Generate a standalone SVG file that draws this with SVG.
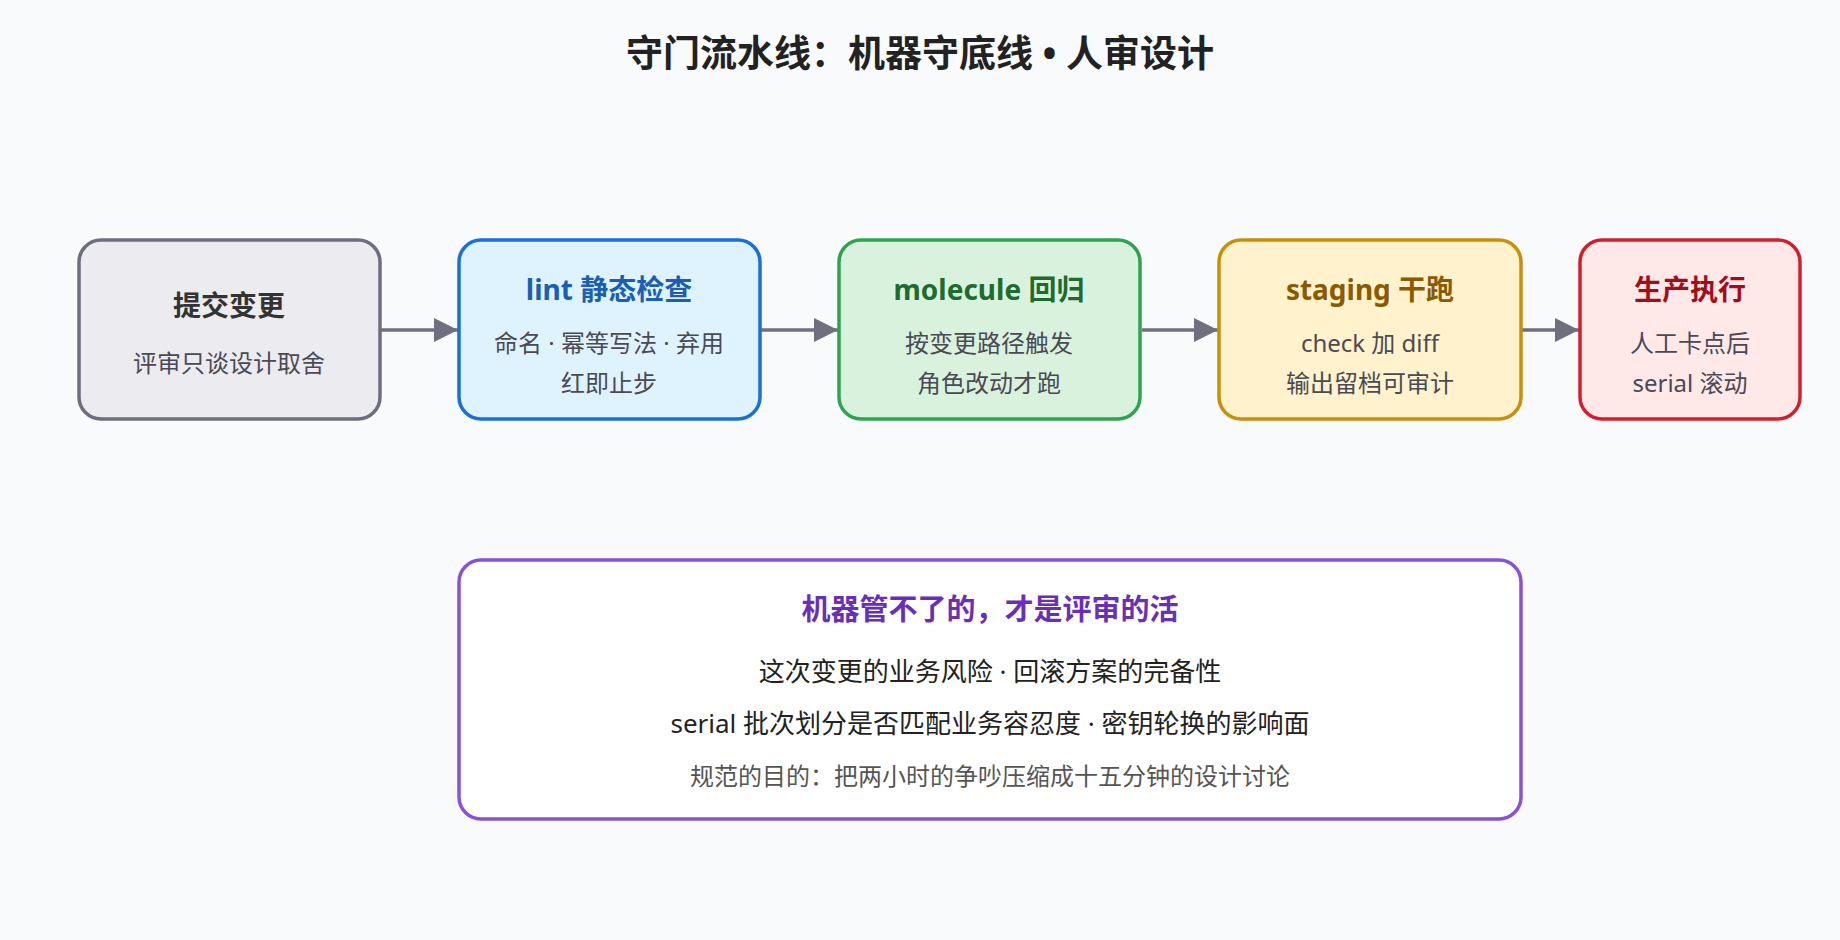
<svg xmlns="http://www.w3.org/2000/svg" width="1840" height="940" viewBox="0 0 1840 940">
<style>
text{font-family:"Noto Sans","Noto Sans CJK SC",sans-serif;text-anchor:middle}
.t{font-size:28px;font-weight:bold}
.s{font-size:24px;fill:#4a4a55}
.box{stroke-width:3.5}
.c{stroke:#6f6f80;stroke-width:3.5;fill:none;marker-end:url(#a2)}
</style>
<defs><marker id="a2" viewBox="0 0 10 10" refX="10" refY="5" markerWidth="30" markerHeight="24" markerUnits="userSpaceOnUse" orient="auto"><path d="M0,0L10,5L0,10z" fill="#6f6f80"/></marker></defs>
<rect width="1840" height="940" fill="#f8fafc"/>
<text x="920" y="67" style="font-size:37px;font-weight:bold" fill="#222">守门流水线：机器守底线 • 人审设计</text>
<g id="connectors">
<line x1="381" y1="330" x2="458" y2="330" class="c"/>
<line x1="761" y1="330" x2="838" y2="330" class="c"/>
<line x1="1142" y1="330" x2="1218" y2="330" class="c"/>
<line x1="1522" y1="330" x2="1579" y2="330" class="c"/>
</g>
<g id="n1"><rect x="79" y="240" width="301" height="179" rx="22" class="box" fill="#ecebf0" stroke="#6e6e80"/>
<text x="229" y="316" class="t" fill="#333">提交变更</text><text x="229" y="372" class="s">评审只谈设计取舍</text></g>
<g id="n2"><rect x="459" y="240" width="301" height="179" rx="22" class="box" fill="#dff3fe" stroke="#1a6fd8"/>
<text x="609" y="300" class="t" fill="#1a5fb4">lint 静态检查</text><text x="609" y="352" class="s">命名 · 幂等写法 · 弃用</text><text x="609" y="392" class="s">红即止步</text></g>
<g id="n3"><rect x="839" y="240" width="301" height="179" rx="22" class="box" fill="#d9f2de" stroke="#2ea44f"/>
<text x="989" y="300" class="t" fill="#1e6b2e">molecule 回归</text><text x="989" y="352" class="s">按变更路径触发</text><text x="989" y="392" class="s">角色改动才跑</text></g>
<g id="n4"><rect x="1219" y="240" width="302" height="179" rx="22" class="box" fill="#fff2cc" stroke="#c8900a"/>
<text x="1370" y="300" class="t" fill="#8a5a00">staging 干跑</text><text x="1370" y="352" class="s">check 加 diff</text><text x="1370" y="392" class="s">输出留档可审计</text></g>
<g id="n5"><rect x="1580" y="240" width="220" height="179" rx="22" class="box" fill="#ffe8e8" stroke="#d0202e"/>
<text x="1690" y="300" class="t" fill="#a00e1e">生产执行</text><text x="1690" y="352" class="s">人工卡点后</text><text x="1690" y="392" class="s">serial 滚动</text></g>
<g id="note"><rect x="459" y="560" width="1062" height="259" rx="22" class="box" fill="#fff" stroke="#8a50d8"/>
<text x="990" y="620" style="font-size:29px;font-weight:bold" fill="#6a2fb8">机器管不了的，才是评审的活</text>
<text x="990" y="681" style="font-size:26px" fill="#222">这次变更的业务风险 · 回滚方案的完备性</text>
<text x="990" y="733" style="font-size:26px" fill="#222">serial 批次划分是否匹配业务容忍度 · 密钥轮换的影响面</text>
<text x="990" y="785" style="font-size:24px" fill="#555">规范的目的：把两小时的争吵压缩成十五分钟的设计讨论</text></g>
</svg>
